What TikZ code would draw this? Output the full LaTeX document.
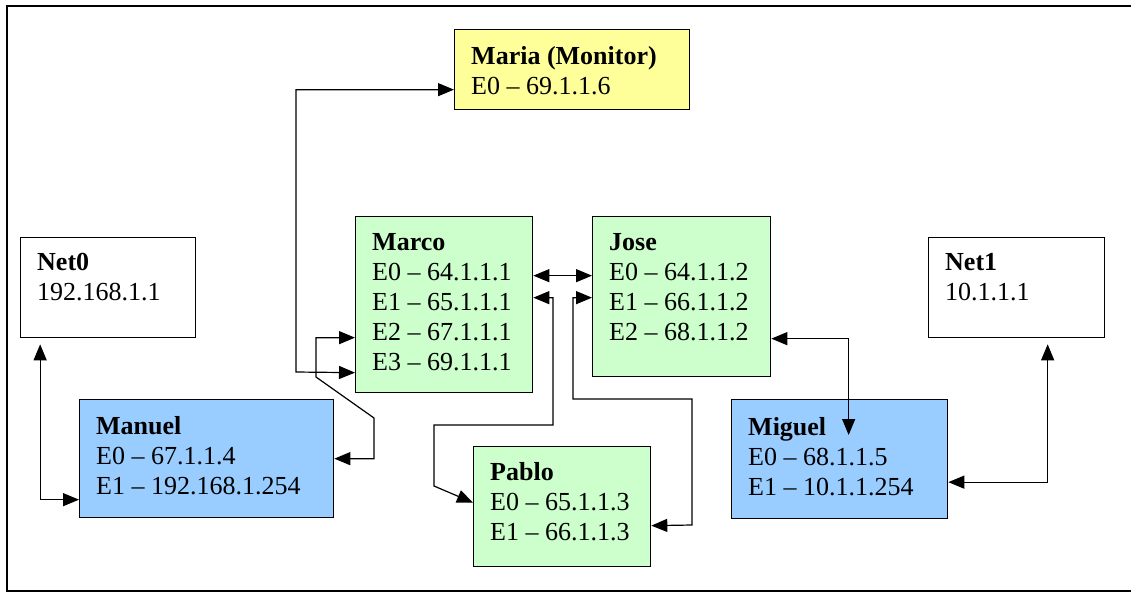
\documentclass[tikz,border=0pt]{standalone}
\usepackage{fontspec}
\setmainfont{Liberation Serif}
\usetikzlibrary{arrows.meta}
\definecolor{hostgreen}{HTML}{CCFFCC}
\definecolor{hostblue}{HTML}{99CCFF}
\definecolor{monitor}{HTML}{FFFF99}
\tikzset{
  box/.style={draw=black, line width=1.3pt, anchor=north west, inner sep=0pt},
  txt/.style={anchor=north west, inner sep=0pt, align=left, font=\fontsize{26}{30}\selectfont},
  link/.style={draw=black, line width=1.2pt, {Triangle[length=16pt,width=13pt]}-{Triangle[length=16pt,width=13pt]}}
}

\begin{document}
\begin{tikzpicture}[x=1pt, y=-1pt, line join=miter]
  \useasboundingbox (0,0) rectangle (1131,592);
  % frame
  \draw[line width=2pt] (1140,6) -- (7,6) -- (7,590.5) -- (1140,590.5);

  % boxes
  \node[box, fill=monitor, minimum width=235pt, minimum height=80pt] (maria) at (454,29) {};
  \node[box, fill=white, minimum width=175pt, minimum height=100pt] (net0) at (20,237) {};
  \node[box, fill=hostgreen, minimum width=177pt, minimum height=176pt] (marco) at (355,216) {};
  \node[box, fill=hostgreen, minimum width=178pt, minimum height=160pt] (jose) at (592,216) {};
  \node[box, fill=white, minimum width=176pt, minimum height=100pt] (net1) at (928,237) {};
  \node[box, fill=hostblue, minimum width=254pt, minimum height=118pt] (manuel) at (79,399) {};
  \node[box, fill=hostgreen, minimum width=177pt, minimum height=120pt] (pablo) at (473,446) {};
  \node[box, fill=hostblue, minimum width=216pt, minimum height=119pt] (miguel) at (731,399) {};

  % links
  \draw[link] ([yshift=-20pt]maria.west) -| (296,372) -- ([yshift=-68pt]marco.west);
  \draw[link] ([yshift=-33pt]marco.west) -| (316,377) -- (374,418) |- (manuel.east);
  \draw[link] ([yshift=29pt]marco.east) -- ([yshift=21pt]jose.west);
  \draw[link] ([yshift=7pt]marco.east) -| (553,425) -| (434,486) -- ([yshift=4pt]pablo.west);
  \draw[link] ([yshift=-1pt]jose.west) -| (573,399) -| (692,525) -- ([yshift=-19pt]pablo.east);
  \draw[link] ([yshift=-42pt]jose.east) -| ([xshift=9pt,yshift=-36pt]miguel.north);
  \draw[link] ([yshift=-23pt]miguel.east) -| ([xshift=31pt,yshift=-6pt]net1.south);
  \draw[link] ([xshift=-68pt,yshift=-6pt]net0.south) |- ([yshift=-41pt]manuel.west);

  % labels
  \node[txt] (maria-txt) at ([xshift=17pt,yshift=-17pt]maria.north west) {\textbf{Maria (Monitor)}\\E0 – 69.1.1.6};
  \node[txt] (net0-txt) at ([xshift=17pt,yshift=-16pt]net0.north west) {\textbf{Net0}\\192.168.1.1};
  \node[txt] (marco-txt) at ([xshift=17pt,yshift=-17pt]marco.north west) {\textbf{Marco}\\E0 – 64.1.1.1\\E1 – 65.1.1.1\\E2 – 67.1.1.1\\E3 – 69.1.1.1};
  \node[txt] (jose-txt) at ([xshift=17pt,yshift=-17pt]jose.north west) {\textbf{Jose}\\E0 – 64.1.1.2\\E1 – 66.1.1.2\\E2 – 68.1.1.2};
  \node[txt] (net1-txt) at ([xshift=17pt,yshift=-16pt]net1.north west) {\textbf{Net1}\\10.1.1.1};
  \node[txt] (manuel-txt) at ([xshift=17pt,yshift=-17pt]manuel.north west) {\textbf{Manuel}\\E0 – 67.1.1.4\\E1 – 192.168.1.254};
  \node[txt] (pablo-txt) at ([xshift=17pt,yshift=-16pt]pablo.north west) {\textbf{Pablo}\\E0 – 65.1.1.3\\E1 – 66.1.1.3};
  \node[txt] (miguel-txt) at ([xshift=17pt,yshift=-18pt]miguel.north west) {\textbf{Miguel}\\E0 – 68.1.1.5\\E1 – 10.1.1.254};
\end{tikzpicture}
\end{document}
